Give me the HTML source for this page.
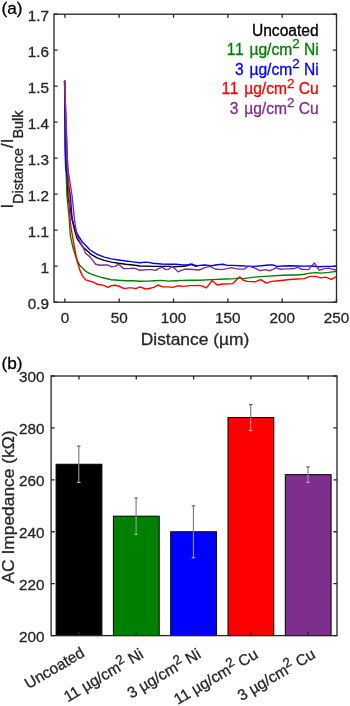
<!DOCTYPE html>
<html><head><meta charset="utf-8"><title>Figure</title>
<style>
html,body{margin:0;padding:0;background:#fff;}
body{width:350px;height:706px;overflow:hidden;}
svg{display:block;font-family:"Liberation Sans", Arial, Helvetica, sans-serif;}
text{fill:#262626;stroke:#262626;stroke-width:0.3px;}
</style></head><body>
<svg width="350" height="706" viewBox="0 0 350 706">
<rect x="0" y="0" width="350" height="706" fill="#ffffff"/>

<path d="M64.6 81.0 L65.7 150.0 L67.8 196.0 L72.1 219.0 L74.6 230.1 L77.1 238.7 L82.3 246.4 L89.1 252.4 L90.0 253.6 L97.1 257.9 L104.3 260.4 L111.4 262.1 L118.6 263.3 L125.7 264.3 L132.9 265.0 L140.0 266.0 L154.3 266.4 L168.6 266.4 L172.9 266.7 L182.9 266.4 L187.0 265.7 L190.0 264.3 L192.0 264.1 L195.7 266.4 L197.0 266.0" fill="none" stroke="#000000" stroke-width="1.4" stroke-linejoin="round" stroke-linecap="round"/>
<path d="M64.6 81.0 L65.3 150.0 L67.0 196.0 L69.3 219.0 L69.6 225.0 L70.3 235.3 L72.9 247.3 L76.3 258.4 L79.7 265.3 L85.7 271.3 L90.0 273.6 L95.7 275.7 L102.9 277.8 L111.4 279.7 L118.6 280.3 L125.7 280.7 L132.9 280.7 L140.0 281.2 L147.1 281.1 L154.3 280.7 L161.4 280.4 L168.6 281.1 L175.7 280.7 L182.9 280.4 L190.0 280.2 L200.0 280.3 L211.4 279.6 L225.7 279.0 L235.7 278.6 L240.0 277.8 L242.9 278.6 L254.3 277.1 L268.6 276.1 L282.9 275.3 L290.0 275.0 L297.1 275.0 L304.3 274.3 L310.0 273.1 L315.7 272.6 L321.4 273.1 L328.6 272.4 L336.4 271.4" fill="none" stroke="#008000" stroke-width="1.4" stroke-linejoin="round" stroke-linecap="round"/>
<path d="M64.6 81.0 L65.2 150.0 L65.6 167.0 L70.4 196.0 L72.1 219.0 L73.7 225.0 L77.1 233.6 L82.3 242.1 L89.1 249.0 L90.0 250.0 L97.1 254.3 L104.3 257.1 L111.4 258.9 L118.6 260.0 L125.7 261.0 L132.9 261.9 L140.0 262.8 L145.7 262.1 L148.6 262.4 L152.9 263.3 L161.4 264.0 L168.6 264.3 L175.7 264.3 L182.9 265.0 L187.1 265.0 L190.0 264.5 L197.1 265.7 L204.3 265.0 L211.4 265.7 L217.1 264.7 L222.9 264.3 L227.1 265.4 L232.9 265.4 L240.0 265.7 L247.1 266.1 L254.3 266.4 L261.4 265.7 L268.6 265.0 L272.9 265.0 L277.1 266.4 L282.9 266.0 L290.0 265.7 L304.3 266.1 L311.4 266.0 L318.6 266.7 L325.7 266.4 L336.4 266.4" fill="none" stroke="#0000ff" stroke-width="1.4" stroke-linejoin="round" stroke-linecap="round"/>
<path d="M64.6 81.0 L67.1 150.0 L68.9 196.0 L70.1 219.0 L70.6 225.0 L72.9 238.7 L75.4 252.4 L77.1 261.0 L79.7 269.6 L82.3 275.6 L85.7 279.9 L90.0 281.2 L93.6 282.1 L97.1 284.3 L100.7 284.7 L104.3 285.7 L107.9 287.4 L111.4 285.7 L115.0 285.3 L118.6 286.0 L124.3 288.6 L128.6 287.9 L131.4 287.9 L135.7 288.6 L140.0 286.8 L145.7 289.0 L150.0 288.3 L154.3 287.1 L157.9 285.0 L162.9 286.9 L168.6 286.9 L172.9 287.4 L178.6 285.7 L182.9 286.4 L190.0 285.6 L200.0 285.4 L202.9 286.4 L206.4 287.9 L209.3 284.3 L212.1 280.4 L214.3 282.4 L217.1 285.0 L222.9 284.0 L232.9 283.6 L237.1 279.3 L240.0 276.9 L242.9 280.0 L247.1 281.4 L255.7 281.7 L260.7 279.6 L266.4 283.1 L271.4 281.4 L278.6 280.7 L285.7 280.0 L290.0 279.5 L297.1 279.0 L304.3 278.6 L310.0 276.4 L315.7 276.4 L320.7 277.9 L325.7 277.1 L331.4 279.3 L336.4 276.7" fill="none" stroke="#ff0000" stroke-width="1.4" stroke-linejoin="round" stroke-linecap="round"/>
<path d="M64.6 81.0 L66.9 150.0 L67.6 167.0 L72.1 196.0 L74.4 219.0 L76.0 230.0 L77.1 235.3 L79.7 241.3 L83.1 247.3 L85.7 253.3 L90.0 256.9 L92.9 260.7 L95.7 264.3 L100.0 265.3 L104.3 265.0 L107.9 265.0 L111.4 266.9 L115.0 266.4 L118.6 264.3 L123.6 268.6 L128.6 268.6 L132.9 268.1 L135.7 268.6 L140.0 270.3 L147.1 269.6 L151.4 269.6 L155.7 270.4 L158.6 268.6 L162.1 267.1 L165.7 269.6 L168.6 269.3 L172.1 266.4 L175.0 268.6 L177.9 271.9 L180.7 270.7 L184.3 269.3 L190.0 269.3 L195.7 269.7 L199.3 270.0 L204.3 267.9 L210.0 266.4 L215.0 269.0 L221.4 269.6 L227.1 268.6 L231.4 267.6 L235.7 268.6 L240.0 269.1 L244.3 269.0 L248.6 266.1 L254.3 267.9 L260.0 270.7 L265.0 269.6 L270.0 270.7 L274.3 268.6 L276.4 267.6 L280.0 269.3 L285.7 268.9 L290.0 268.8 L294.3 268.6 L297.9 267.1 L301.4 269.3 L308.6 269.6 L314.3 262.9 L319.3 270.4 L324.3 268.6 L328.6 268.1 L332.9 269.3 L336.4 270.0" fill="none" stroke="#7e2f8e" stroke-width="1.4" stroke-linejoin="round" stroke-linecap="round"/>
<rect x="54.0" y="14.2" width="282.50" height="288.00" fill="none" stroke="#262626" stroke-width="1.3"/>
<path d="M64.87 302.2 v-3.6 M64.87 14.2 v3.6 M119.19 302.2 v-3.6 M119.19 14.2 v3.6 M173.52 302.2 v-3.6 M173.52 14.2 v3.6 M227.85 302.2 v-3.6 M227.85 14.2 v3.6 M282.17 302.2 v-3.6 M282.17 14.2 v3.6 M336.50 302.2 v-3.6 M336.50 14.2 v3.6 M54.0 302.20 h3.6 M336.5 302.20 h-3.6 M54.0 266.20 h3.6 M336.5 266.20 h-3.6 M54.0 230.20 h3.6 M336.5 230.20 h-3.6 M54.0 194.20 h3.6 M336.5 194.20 h-3.6 M54.0 158.20 h3.6 M336.5 158.20 h-3.6 M54.0 122.20 h3.6 M336.5 122.20 h-3.6 M54.0 86.20 h3.6 M336.5 86.20 h-3.6 M54.0 50.20 h3.6 M336.5 50.20 h-3.6 M54.0 14.20 h3.6 M336.5 14.20 h-3.6 " fill="none" stroke="#262626" stroke-width="1.3"/>
<text x="64.9" y="323.4" font-size="15.3" text-anchor="middle">0</text>
<text x="119.2" y="323.4" font-size="15.3" text-anchor="middle">50</text>
<text x="173.5" y="323.4" font-size="15.3" text-anchor="middle">100</text>
<text x="227.8" y="323.4" font-size="15.3" text-anchor="middle">150</text>
<text x="282.2" y="323.4" font-size="15.3" text-anchor="middle">200</text>
<text x="336.5" y="323.4" font-size="15.3" text-anchor="middle">250</text>
<text x="49" y="308.6" font-size="15.3" text-anchor="end">0.9</text>
<text x="49" y="272.6" font-size="15.3" text-anchor="end">1</text>
<text x="49" y="236.6" font-size="15.3" text-anchor="end">1.1</text>
<text x="49" y="200.6" font-size="15.3" text-anchor="end">1.2</text>
<text x="49" y="164.6" font-size="15.3" text-anchor="end">1.3</text>
<text x="49" y="128.6" font-size="15.3" text-anchor="end">1.4</text>
<text x="49" y="92.6" font-size="15.3" text-anchor="end">1.5</text>
<text x="49" y="56.6" font-size="15.3" text-anchor="end">1.6</text>
<text x="49" y="20.6" font-size="15.3" text-anchor="end">1.7</text>
<text x="195" y="344.6" font-size="17.4" text-anchor="middle">Distance (µm)</text>
<text x="1.5" y="13.6" font-size="17.2" style="fill:#000;stroke:#000">(a)</text>
<text transform="translate(13.3,208.6) rotate(-90)" font-size="16.8">I<tspan font-size="14.4" dy="9.3">Distance</tspan><tspan dy="-9.3">/I</tspan><tspan font-size="14.4" dy="9.3">Bulk</tspan></text>
<text x="318.7" y="35.9" font-size="15.6" text-anchor="end" style="fill:#000000;stroke:#000000">Uncoated</text>
<text x="318.7" y="55.0" font-size="15.6" text-anchor="end" style="fill:#008000;stroke:#008000"><tspan letter-spacing="0.7">11 </tspan>µg/cm<tspan font-size="13.4" dy="-6.6">2</tspan><tspan dy="6.6"> Ni</tspan></text>
<text x="318.7" y="74.5" font-size="15.6" text-anchor="end" style="fill:#0000ff;stroke:#0000ff"><tspan letter-spacing="0.7">3 </tspan>µg/cm<tspan font-size="13.4" dy="-6.6">2</tspan><tspan dy="6.6"> Ni</tspan></text>
<text x="318.7" y="94.2" font-size="15.6" text-anchor="end" style="fill:#ff0000;stroke:#ff0000"><tspan letter-spacing="0.7">11 </tspan>µg/cm<tspan font-size="13.4" dy="-6.6">2</tspan><tspan dy="6.6"> Cu</tspan></text>
<text x="318.7" y="113.7" font-size="15.6" text-anchor="end" style="fill:#7e2f8e;stroke:#7e2f8e"><tspan letter-spacing="0.7">3 </tspan>µg/cm<tspan font-size="13.4" dy="-6.6">2</tspan><tspan dy="6.6"> Cu</tspan></text>
<rect x="56.10" y="464.26" width="45.80" height="171.34" fill="#000000" stroke="#000" stroke-width="1"/>
<rect x="113.40" y="516.18" width="45.80" height="119.42" fill="#008000" stroke="#000" stroke-width="1"/>
<rect x="170.70" y="531.76" width="45.80" height="103.84" fill="#0000ff" stroke="#000" stroke-width="1"/>
<rect x="228.00" y="417.54" width="45.80" height="218.06" fill="#ff0000" stroke="#000" stroke-width="1"/>
<rect x="285.30" y="474.65" width="45.80" height="160.95" fill="#7e2f8e" stroke="#000" stroke-width="1"/>
<rect x="51.1" y="376.0" width="285.90" height="259.60" fill="none" stroke="#262626" stroke-width="1.3"/>
<path d="M79.00 635.6 v-3.6 M79.00 376.0 v3.6 M136.30 635.6 v-3.6 M136.30 376.0 v3.6 M193.60 635.6 v-3.6 M193.60 376.0 v3.6 M250.90 635.6 v-3.6 M250.90 376.0 v3.6 M308.20 635.6 v-3.6 M308.20 376.0 v3.6 M51.1 635.60 h3.6 M337.0 635.60 h-3.6 M51.1 583.68 h3.6 M337.0 583.68 h-3.6 M51.1 531.76 h3.6 M337.0 531.76 h-3.6 M51.1 479.84 h3.6 M337.0 479.84 h-3.6 M51.1 427.92 h3.6 M337.0 427.92 h-3.6 M51.1 376.00 h3.6 M337.0 376.00 h-3.6 " fill="none" stroke="#262626" stroke-width="1.3"/>
<path d="M78.80 446.09 V464.26" fill="none" stroke="#787878" stroke-width="1.1"/>
<path d="M78.80 464.26 V482.44" fill="none" stroke="#a4a4a4" stroke-width="1.0"/>
<path d="M77.10 446.09 h3.4" fill="none" stroke="#585858" stroke-width="1.1"/>
<path d="M77.10 482.44 h3.4" fill="none" stroke="#b0b0b0" stroke-width="1.2"/>
<path d="M136.10 498.01 V516.18" fill="none" stroke="#787878" stroke-width="1.1"/>
<path d="M136.10 516.18 V534.36" fill="none" stroke="#a4a4a4" stroke-width="1.0"/>
<path d="M134.40 498.01 h3.4" fill="none" stroke="#585858" stroke-width="1.1"/>
<path d="M134.40 534.36 h3.4" fill="none" stroke="#b0b0b0" stroke-width="1.2"/>
<path d="M193.40 505.80 V531.76" fill="none" stroke="#787878" stroke-width="1.1"/>
<path d="M193.40 531.76 V557.72" fill="none" stroke="#a4a4a4" stroke-width="1.0"/>
<path d="M191.70 505.80 h3.4" fill="none" stroke="#585858" stroke-width="1.1"/>
<path d="M191.70 557.72 h3.4" fill="none" stroke="#b0b0b0" stroke-width="1.2"/>
<path d="M250.70 404.56 V417.54" fill="none" stroke="#787878" stroke-width="1.1"/>
<path d="M250.70 417.54 V430.52" fill="none" stroke="#a4a4a4" stroke-width="1.0"/>
<path d="M249.00 404.56 h3.4" fill="none" stroke="#585858" stroke-width="1.1"/>
<path d="M249.00 430.52 h3.4" fill="none" stroke="#b0b0b0" stroke-width="1.2"/>
<path d="M308.00 466.86 V474.65" fill="none" stroke="#787878" stroke-width="1.1"/>
<path d="M308.00 474.65 V482.44" fill="none" stroke="#a4a4a4" stroke-width="1.0"/>
<path d="M306.30 466.86 h3.4" fill="none" stroke="#585858" stroke-width="1.1"/>
<path d="M306.30 482.44 h3.4" fill="none" stroke="#b0b0b0" stroke-width="1.2"/>
<text x="44.5" y="642.0" font-size="15.3" text-anchor="end">200</text>
<text x="44.5" y="590.1" font-size="15.3" text-anchor="end">220</text>
<text x="44.5" y="538.2" font-size="15.3" text-anchor="end">240</text>
<text x="44.5" y="486.2" font-size="15.3" text-anchor="end">260</text>
<text x="44.5" y="434.3" font-size="15.3" text-anchor="end">280</text>
<text x="44.5" y="382.4" font-size="15.3" text-anchor="end">300</text>
<text x="1.5" y="369.2" font-size="17.2" style="fill:#000;stroke:#000">(b)</text>
<text transform="translate(14.2,583.6) rotate(-90)" font-size="17.4">AC Impedance (kΩ)</text>
<text transform="translate(85.7,655.6) rotate(-30.5)" font-size="15.5" text-anchor="end">Uncoated</text>
<text transform="translate(144.6,657.1) rotate(-30.5)" font-size="15.5" text-anchor="end">11 µg/cm<tspan font-size="13.4" dy="-5.8">2</tspan><tspan dy="5.8"> Ni</tspan></text>
<text transform="translate(201.9,657.1) rotate(-30.5)" font-size="15.5" text-anchor="end">3 µg/cm<tspan font-size="13.4" dy="-5.8">2</tspan><tspan dy="5.8"> Ni</tspan></text>
<text transform="translate(259.2,657.1) rotate(-30.5)" font-size="15.5" text-anchor="end">11 µg/cm<tspan font-size="13.4" dy="-5.8">2</tspan><tspan dy="5.8"> Cu</tspan></text>
<text transform="translate(316.5,657.1) rotate(-30.5)" font-size="15.5" text-anchor="end">3 µg/cm<tspan font-size="13.4" dy="-5.8">2</tspan><tspan dy="5.8"> Cu</tspan></text>
</svg></body></html>
